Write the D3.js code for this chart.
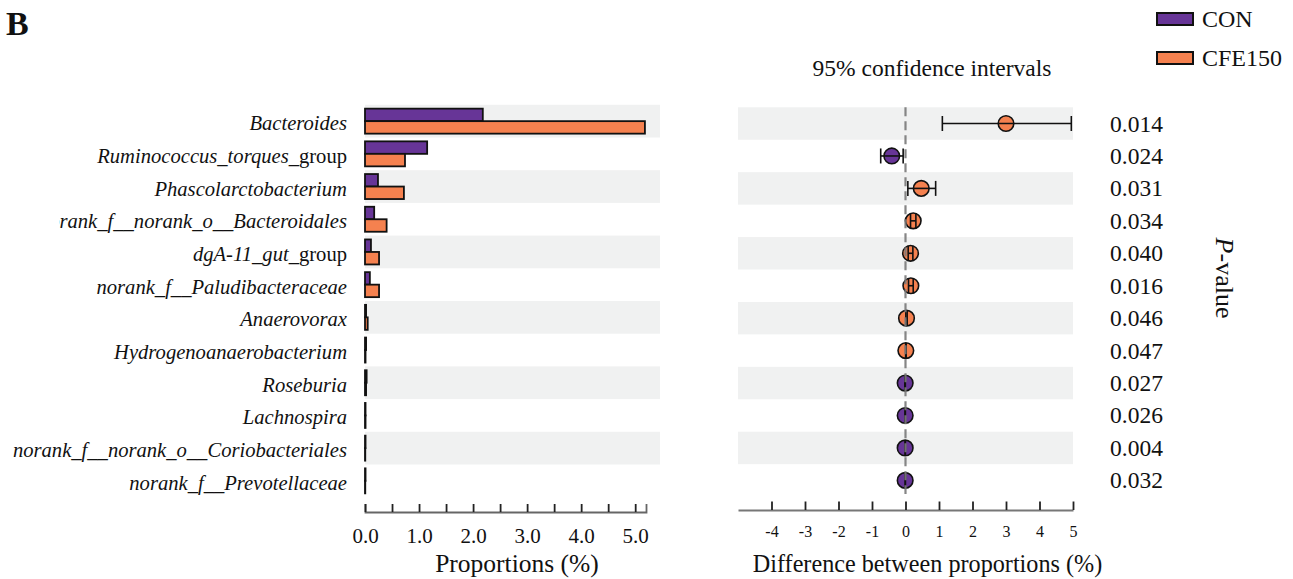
<!DOCTYPE html>
<html>
<head>
<meta charset="utf-8">
<script src="https://cdn.jsdelivr.net/npm/d3@7"></script>
<style>
  html, body { margin: 0; padding: 0; background: #fff; }
  svg { display: block; }
  text { font-family: "Liberation Serif", "Times New Roman", serif; fill: #111; }
</style>
</head>
<body>
<svg id="chart" width="1293" height="579"></svg>
<script>
// Genera (italic part + upright suffix)
const taxaItalic = [
  "Bacteroides",
  "Ruminococcus_torques_",
  "Phascolarctobacterium",
  "norank_f__norank_o__Bacteroidales",
  "dgA-11_gut_",
  "norank_f__Paludibacteraceae",
  "Anaerovorax",
  "Hydrogenoanaerobacterium",
  "Roseburia",
  "Lachnospira",
  "norank_f__norank_o__Coriobacteriales",
  "norank_f__Prevotellaceae"
];
const taxaPlain = ["", "group", "", "", "group", "", "", "", "", "", "", ""];

// Mean proportions (%) per group
const groups = ["CON", "CFE150"];
const propCON    = [2.18, 1.15, 0.24, 0.17, 0.11, 0.09, 0.02, 0.02, 0.03, 0.01, 0.01, 0.01];
const propCFE150 = [5.18, 0.74, 0.72, 0.40, 0.26, 0.26, 0.05, 0.01, 0.02, 0.01, 0.005, 0.005];

// Difference between proportions (%) with 95% CI
const diffMean  = [3.00, -0.41, 0.47, 0.23, 0.15, 0.16, 0.03, 0.01, -0.01, -0.01, -0.01, -0.01];
const diffLower = [1.10, -0.74, 0.07, 0.15, 0.08, 0.09, 0.01, 0.005, -0.02, -0.015, -0.012, -0.01];
const diffUpper = [4.95, -0.07, 0.90, 0.31, 0.22, 0.23, 0.05, 0.02, -0.005, -0.004, -0.003, -0.002];
const pValues   = ["0.014", "0.024", "0.031", "0.034", "0.040", "0.016", "0.046", "0.047", "0.027", "0.026", "0.004", "0.032"];

// Axis ticks
const propTicks = [0, 0.5, 1, 1.5, 2, 2.5, 3, 3.5, 4, 4.5, 5];
const diffTicks = [-4, -3, -2, -1, 0, 1, 2, 3, 4, 5];

const colors = { CON: "#673597", CFE150: "#F5814F" };
const bandFill = "#F0F1F1";

const svg = d3.select("#chart");
const idx = d3.range(taxaItalic.length);

// ---------- Left panel: proportions ----------
const yL = d3.scaleBand().domain(idx).range([104.8, 497.2]);
const xL = d3.scaleLinear().domain([0, 5.2]).range([365, 646]);

const left = svg.append("g");
left.selectAll("rect.band").data(idx.filter(i => i % 2 === 0)).join("rect")
  .attr("class", "band")
  .attr("x", xL(0)).attr("width", 660 - xL(0))
  .attr("y", i => yL(i)).attr("height", yL.bandwidth())
  .attr("fill", bandFill);

const barH = 12.5;
const barRows = left.selectAll("g.row").data(idx).join("g").attr("class", "row");
barRows.append("rect")
  .attr("x", xL(0))
  .attr("y", i => yL(i) + yL.bandwidth() / 2 - barH)
  .attr("width", i => xL(propCON[i]) - xL(0))
  .attr("height", barH)
  .attr("fill", colors.CON).attr("stroke", "#111").attr("stroke-width", 1.8);
barRows.append("rect")
  .attr("x", xL(0))
  .attr("y", i => yL(i) + yL.bandwidth() / 2)
  .attr("width", i => xL(propCFE150[i]) - xL(0))
  .attr("height", barH)
  .attr("fill", colors.CFE150).attr("stroke", "#111").attr("stroke-width", 1.8);

// long label is cut at the left margin
svg.append("clipPath").attr("id", "labelCut")
  .append("rect").attr("x", 59).attr("y", 0).attr("width", 300).attr("height", 579);

const labels = svg.append("g").selectAll("text").data(idx).join("text")
  .attr("x", 347)
  .attr("y", i => yL(i) + yL.bandwidth() / 2 + 9)
  .attr("text-anchor", "end")
  .attr("font-size", 20.6)
  .attr("clip-path", i => i === 3 ? "url(#labelCut)" : null);
labels.append("tspan").attr("font-style", "italic").text(i => taxaItalic[i]);
labels.append("tspan").text(i => taxaPlain[i]);

const axL = svg.append("g").attr("transform", "translate(0,512)")
  .call(d3.axisBottom(xL).tickValues(propTicks).tickSize(-8).tickPadding(12)
    .tickFormat(d => Number.isInteger(d) ? d.toFixed(1) : ""));
axL.select(".domain").attr("stroke", "#666").attr("stroke-width", 1.8);
axL.selectAll(".tick line").attr("stroke", "#222").attr("stroke-width", 1.8);
axL.selectAll(".tick text").attr("font-family", "Liberation Serif, serif")
  .attr("font-size", 21).attr("fill", "#111").attr("dy", "0.9em");

svg.append("text").attr("x", 517).attr("y", 572).attr("text-anchor", "middle")
  .attr("font-size", 25.5).text("Proportions (%)");

// ---------- Right panel: difference with CI ----------
const yR = d3.scaleBand().domain(idx).range([107.3, 496.6]);
const xR = d3.scaleLinear().domain([-5, 5]).range([738, 1073]);

const right = svg.append("g");
right.selectAll("rect.band").data(idx.filter(i => i % 2 === 0)).join("rect")
  .attr("class", "band")
  .attr("x", xR(-5)).attr("width", xR(5) - xR(-5))
  .attr("y", i => yR(i)).attr("height", yR.bandwidth())
  .attr("fill", bandFill);

const cy = i => yR(i) + yR.bandwidth() / 2;
right.selectAll("circle").data(idx).join("circle")
  .attr("cx", i => xR(diffMean[i])).attr("cy", cy).attr("r", 7.8)
  .attr("fill", i => diffMean[i] >= 0 ? colors.CFE150 : colors.CON)
  .attr("stroke", "#111").attr("stroke-width", 1.6);

const eb = right.selectAll("g.eb").data(idx).join("g").attr("class", "eb")
  .attr("stroke", "#111").attr("stroke-width", 1.6);
eb.append("line").attr("x1", i => xR(diffLower[i])).attr("x2", i => xR(diffUpper[i]))
  .attr("y1", cy).attr("y2", cy);
eb.append("line").attr("x1", i => xR(diffLower[i])).attr("x2", i => xR(diffLower[i]))
  .attr("y1", i => cy(i) - 7.5).attr("y2", i => cy(i) + 7.5);
eb.append("line").attr("x1", i => xR(diffUpper[i])).attr("x2", i => xR(diffUpper[i]))
  .attr("y1", i => cy(i) - 7.5).attr("y2", i => cy(i) + 7.5);

// zero reference
right.append("line").attr("x1", xR(0)).attr("x2", xR(0))
  .attr("y1", 107.3).attr("y2", 494)
  .attr("stroke", "#7a7a7a").attr("stroke-width", 2.2).attr("stroke-dasharray", "9,5")
  .attr("opacity", 0.9);

const axR = svg.append("g").attr("transform", "translate(0,510)")
  .call(d3.axisBottom(xR).tickValues(diffTicks).tickSizeInner(-8.5).tickSizeOuter(0).tickPadding(12)
    .tickFormat(d => String(d)));
axR.select(".domain").attr("stroke", "#777").attr("stroke-width", 1.8);
axR.selectAll(".tick line").attr("stroke", "#222").attr("stroke-width", 1.8);
axR.selectAll(".tick text").attr("font-family", "Liberation Sans, Arial, sans-serif")
  .attr("font-size", 16).attr("fill", "#111").attr("dy", "0.95em");

svg.append("text").attr("x", 927.5).attr("y", 572).attr("text-anchor", "middle")
  .attr("font-size", 24.2).text("Difference between proportions (%)");

svg.append("text").attr("x", 932).attr("y", 76).attr("text-anchor", "middle")
  .attr("font-size", 23.5).text("95% confidence intervals");

// p-values
svg.append("g").selectAll("text").data(idx).join("text")
  .attr("x", 1110).attr("y", i => cy(i) + 8)
  .attr("font-size", 23.5).text(i => pValues[i]);

const pLab = svg.append("text").attr("font-size", 26)
  .attr("text-anchor", "middle")
  .attr("transform", "translate(1216,278) rotate(90)");
pLab.append("tspan").attr("font-style", "italic").text("P");
pLab.append("tspan").text("-value");

// legend
const legend = svg.append("g").selectAll("g").data(groups).join("g")
  .attr("transform", (d, k) => `translate(1157,${13 + k * 39})`);
legend.append("rect").attr("width", 36).attr("height", 12)
  .attr("fill", d => colors[d]).attr("stroke", "#111").attr("stroke-width", 2);
legend.append("text").attr("x", 45).attr("y", 13.5).attr("font-size", 24).text(d => d);

// panel tag
svg.append("text").attr("x", 6).attr("y", 35).attr("font-size", 34)
  .attr("font-weight", "bold").text("B");
</script>
</body>
</html>
